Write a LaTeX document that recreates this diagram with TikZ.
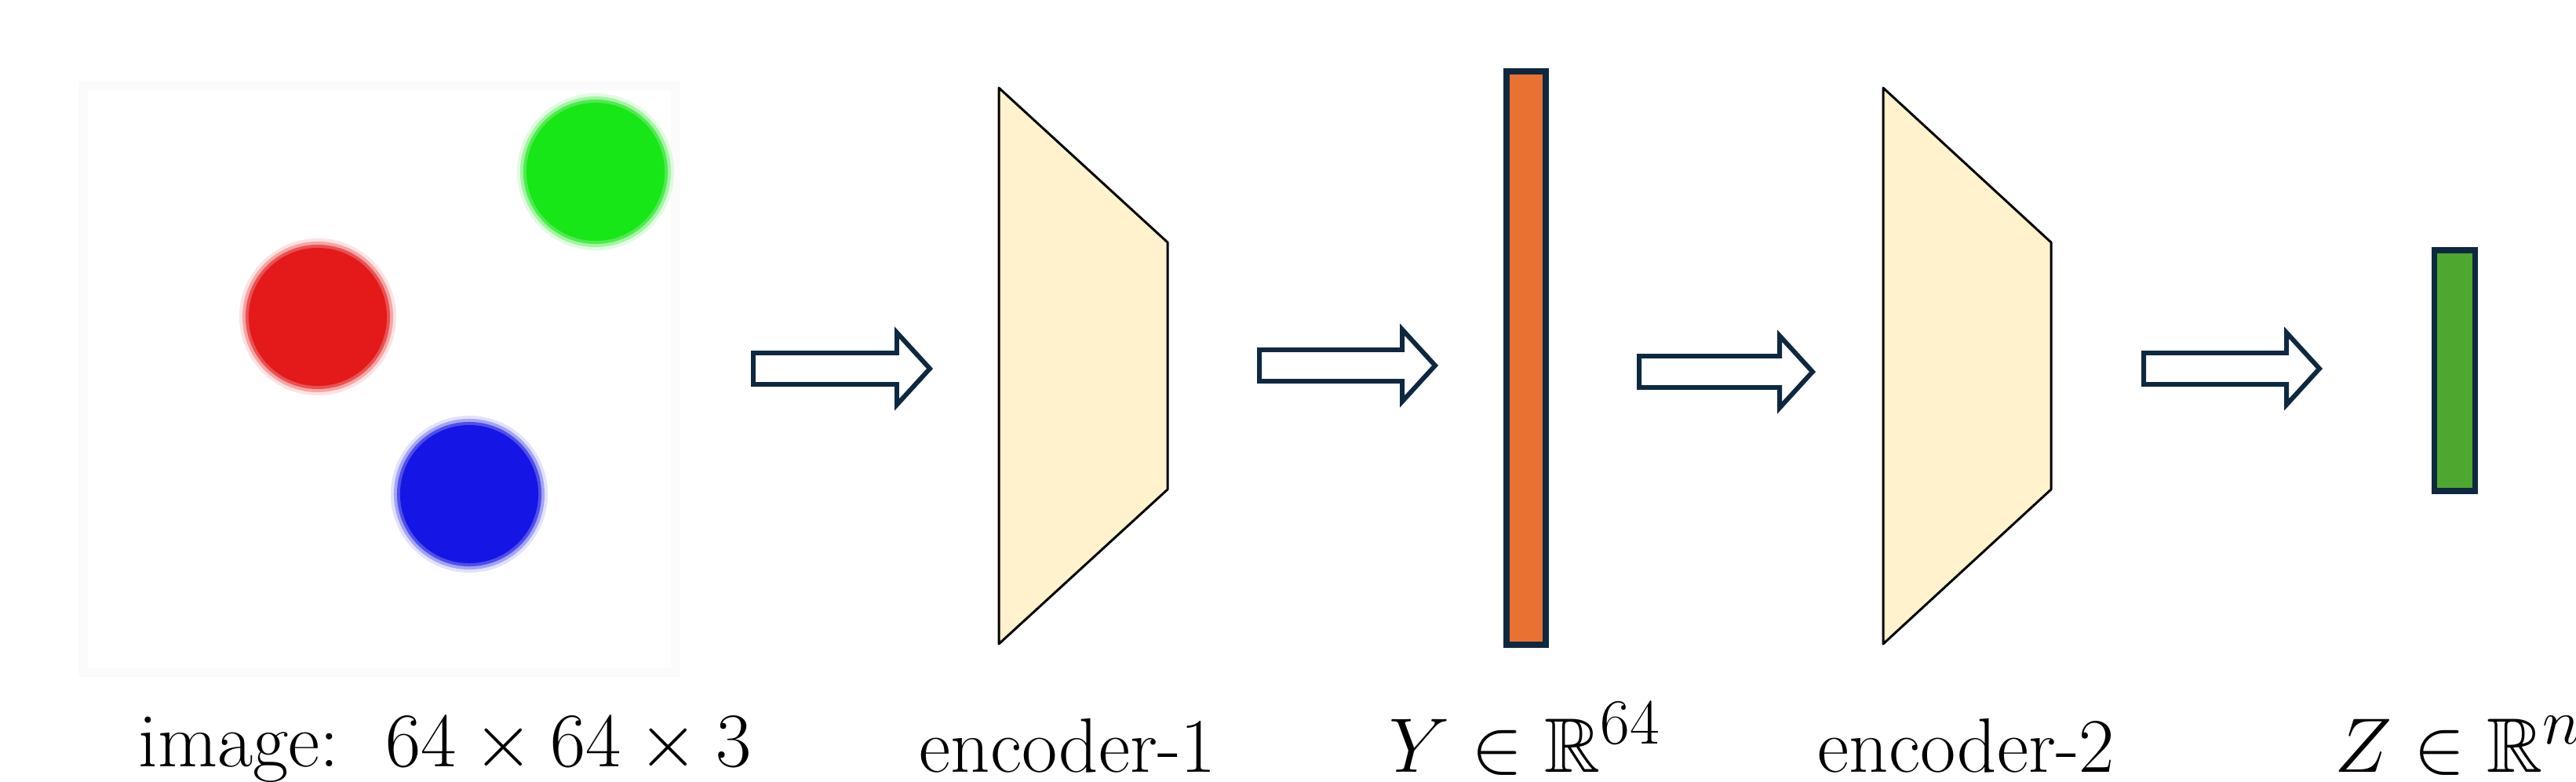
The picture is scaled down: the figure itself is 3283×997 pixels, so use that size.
\documentclass[tikz,border=0pt]{standalone}
\usepackage{amssymb}
\definecolor{navy}{HTML}{0E2841}
\definecolor{trapfill}{HTML}{FFF2CC}
\definecolor{orangebar}{HTML}{E97132}
\definecolor{greenbar}{HTML}{4EA72E}
\definecolor{dotred}{HTML}{E41919}
\definecolor{dotgreen}{HTML}{17E617}
\definecolor{dotblue}{HTML}{1515E6}
\newcommand{\blkarrow}[4]{%
  \draw[blockarrow] (#1,#4-20) -- (#2,#4-20) -- (#2,#4-46) -- (#3,#4)
    -- (#2,#4+46) -- (#2,#4+20) -- (#1,#4+20) -- cycle;}
\newcommand{\softdot}[2]{%
  \fill[#2, opacity=0.12] (#1) circle[radius=1.00cm];
  \fill[#2, opacity=0.3] (#1) circle[radius=0.96cm];
  \fill[#2, opacity=0.6] (#1) circle[radius=0.92cm];
  \fill[#2] (#1) circle[radius=0.88cm];}
\begin{document}
\begin{tikzpicture}[x=0.01cm,y=-0.01cm,
  blockarrow/.style={draw=navy, line width=1.7pt, fill=white, line join=miter},
  enc/.style={draw=black, line width=0.85pt, fill=trapfill, line join=round},
  bar/.style={draw=navy, line width=2pt},
  lbl/.style={font=\fontsize{24.88}{30}\selectfont, scale=1.1254, anchor=base, inner sep=0pt}]
\useasboundingbox (0,0) rectangle (3283,997);
% input image
\fill[black!1.5] (100,103) rectangle (867,863);
\fill[white] (112,115) rectangle (855,851);
\coordinate (red) at (405,404);
\coordinate (grn) at (759,219);
\coordinate (blu) at (598,630);
\softdot{red}{dotred}
\softdot{grn}{dotgreen}
\softdot{blu}{dotblue}
% arrows
\blkarrow{960}{1143}{1185}{470}
\blkarrow{1605}{1787}{1829}{466}
\blkarrow{2089}{2268}{2310}{474}
\blkarrow{2732}{2914}{2956}{470}
% encoders
\draw[enc] (1273,112) -- (1488,309) -- (1488,624) -- (1273,821) -- cycle;
\draw[enc] (2400,112) -- (2614,309) -- (2614,624) -- (2400,821) -- cycle;
% feature bars
\draw[bar, fill=orangebar] (1920,91) rectangle (1970,822);
\draw[bar, fill=greenbar] (3102,319) rectangle (3154,626);
% labels
\node[lbl] (limg) at (567,977) {image:\hspace{0.6em}$64\times 64\times 3$};
\node[lbl] (lenc1) at (1361,984) {encoder-1};
\node[lbl, anchor=base west] (ly) at (1770,984) {$Y\in\mathbb{R}^{64}$};
\node[lbl] (lenc2) at (2506,984) {encoder-2};
\node[lbl, anchor=base west] (lz) at (2975,984) {$Z\in\mathbb{R}^{n}$};
\end{tikzpicture}
\end{document}
